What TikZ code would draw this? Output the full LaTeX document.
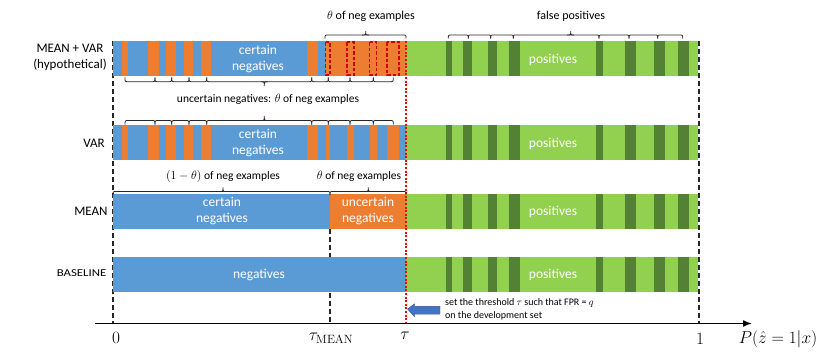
\documentclass[tikz,border=0pt]{standalone}
\usepackage[no-math]{fontspec}
\setmainfont{Carlito}
\usetikzlibrary{arrows.meta}
\definecolor{cblue}{HTML}{5B9BD5}
\definecolor{corange}{HTML}{ED7D31}
\definecolor{cgreen}{HTML}{92D050}
\definecolor{cdgreen}{HTML}{548235}
\definecolor{carrow}{HTML}{4472C4}
\definecolor{cdred}{HTML}{D00000}
\newcommand{\bseg}[4]{\draw[br] (#1,#4) .. controls (#1,#3) .. (#1+3.5,#3) -- (#2-3.5,#3) .. controls (#2,#3) .. (#2,#4);}
\newcommand{\btip}[3]{\draw[br] (#1-3.5,#2) .. controls (#1,#2) .. (#1,#3) .. controls (#1,#2) .. (#1+3.5,#2);}
\newcommand{\greenrow}[2]{%
  \fill[cgreen] (406,#1) rectangle (698,#2);
  \foreach \a/\b in {446/452,463/472,488/497,509/520,596/603,625/636,654/665,678/689}
    \fill[cdgreen] (\a,#1) rectangle (\b,#2);}
\begin{document}
\begin{tikzpicture}[x=1pt,y=-1pt,
  br/.style={draw=black!85,line width=0.8pt},
  vdash/.style={draw=black!85,line width=1.3pt,dash pattern=on 5pt off 3pt},
  thr/.style={draw=red,line width=1.7pt,dash pattern=on 2pt off 1.6pt},
  intext/.style={inner sep=0pt,text=white,align=center,font=\fontsize{13.5}{15.5}\selectfont},
  lbl/.style={inner sep=0pt,align=center,font=\fontsize{13}{16}\selectfont},
  ann/.style={inner sep=0pt,font=\fontsize{12}{14}\selectfont},
  anns/.style={inner sep=0pt,font=\fontsize{11.5}{14}\selectfont},
  axl/.style={inner sep=0pt,font=\fontsize{18}{20}\selectfont}]
\useasboundingbox (0,0) rectangle (830,364);

% vertical dashed guides
\coordinate (g0top) at (113,41);
\coordinate (g0bot) at (113,323);
\coordinate (gmtop) at (330,229);
\coordinate (gmbot) at (330,323);
\coordinate (g1top) at (699,41);
\coordinate (g1bot) at (699,323);
\draw[vdash] (g0top) -- (g0bot);
\draw[vdash] (gmtop) -- (gmbot);
\draw[vdash] (g1top) -- (g1bot);

% Row 1: MEAN + VAR
\fill[cblue] (113,41) rectangle (406,76);
\foreach \a/\b in {122/128,148/159,166/176,184/193,201/211,307/318}
  \fill[corange] (\a,41) rectangle (\b,76);
\fill[corange] (325,41) rectangle (406,76);
\foreach \a/\b in {325.5/330,347/354,369.5/376.5,387/399}
  \draw[cdred,line width=1.2pt,dash pattern=on 3.5pt off 2pt] (\a,42) rectangle (\b,75);
\greenrow{41}{76}

% Row 2: VAR
\fill[cblue] (113,125) rectangle (406,160);
\foreach \a/\b in {122/128,148/159,166/176,184/193,201/211,307/318,326/330,347/354,370/377,387/399}
  \fill[corange] (\a,125) rectangle (\b,160);
\greenrow{125}{160}

% Row 3: MEAN
\fill[cblue] (113,194) rectangle (330,229);
\fill[corange] (330,194) rectangle (406,229);
\greenrow{194}{229}

% Row 4: BASELINE
\fill[cblue] (113,257) rectangle (406,292);
\greenrow{257}{292}

% threshold line
\coordinate (thtop) at (406,41);
\coordinate (thbot) at (406,324);
\draw[thr] (thtop) -- (thbot);

% texts in bars
\node[intext] (n1) at (258,59) {certain\\negatives};
\node[intext] (p1) at (553,59.5) {positives};
\node[intext] (n2) at (258,143) {certain\\negatives};
\node[intext] (p2) at (553,143.5) {positives};
\node[intext] (n3) at (222,211) {certain\\negatives};
\node[intext] (u3) at (368,211) {uncertain\\negatives};
\node[intext] (p3) at (553,212) {positives};
\node[intext] (n4) at (259,275) {negatives};
\node[intext] (p4) at (553,275) {positives};

% row labels
\node[lbl] (l1) at (70,57) {MEAN + VAR\\(hypothetical)};
\node[lbl] (l2) at (94,143) {VAR};
\node[lbl] (l3) at (91,211.5) {MEAN};
\node[inner sep=0pt,anchor=east,font=\fontsize{10.5}{12}\selectfont] (l4) at (106.5,273) {\scalebox{1.22}[1]{BASELINE}};

% braces row 1 top
\bseg{325}{406}{35}{38.5}
\btip{365.7}{35}{31.2}
\node[ann] (t1) at (371,16.5) {$\theta$ of neg examples};
\foreach \a/\b in {448.3/468.3,468.3/490.7,490.7/513.3,513.3/599,599/629,629/657.7,657.7/682.7}
  {\bseg{\a}{\b}{35}{38.5}}
\btip{570.7}{35}{31.2}
\node[ann] (t2) at (571,16.5) {false positives};

% brace under row 1
\foreach \a/\b in {125/155,155/171.7,171.7/189,189/206.7,206.7/311.7,311.7/328.3,328.3/350,350/373.3,373.3/393.3}
  {\bseg{\a}{\b}{81.7}{77.5}}
\btip{264.3}{81.7}{86}
\node[anns] (t3) at (268,99.5) {uncertain negatives: $\theta$ of neg examples};

% brace above row 2
\foreach \a/\b in {125/155,155/171.7,171.7/189,189/206.7,206.7/311.7,311.7/328.3,328.3/350,350/373.3,373.3/393.3}
  {\bseg{\a}{\b}{120.5}{124.5}}
\btip{264.3}{120.5}{116}

% braces above row 3
\bseg{113}{330}{191.5}{195}
\btip{223}{191.5}{187.5}
\bseg{330}{406}{191.5}{195}
\btip{368.3}{191.5}{187.5}
\node[anns] (t4) at (223,176) {$(1-\theta)$ of neg examples};
\node[anns] (t5) at (359,176) {$\theta$ of neg examples};

% note with arrow
\node[inner sep=0pt,anchor=west,align=left,font=\fontsize{10}{13.3}\selectfont] (note) at (445,309.5)
  {set the threshold $\tau$ such that FPR = $q$\\on the development set};
\coordinate (arrowtail) at (440,309);
\coordinate (arrowhead) at (407.5,309);
\fill[carrow,draw=carrow!75!black,line width=0.4pt]
  (arrowtail) ++(0,-2.6) -- ++(-25.5,0) -- ++(0,-2.6) -- (arrowhead) -- ++(7,7.8) -- ++(0,-2.6) -- ++(25.5,0) -- cycle;

% axis
\coordinate (axl) at (95,323.5);
\coordinate (axr) at (752,323.5);
\draw[line width=1.6pt,-{Latex[length=9pt,width=7pt]}] (axl) -- (axr);
\node[axl] (a0) at (116,338) {$0$};
\node[axl] (am) at (331,338) {$\tau_{\mathrm{MEAN}}$};
\node[axl] (at) at (405,336) {$\tau$};
\node[axl] (a1) at (700,339) {$1$};
\node[axl] (ap) at (778,339.5) {$P(\hat{z}=1|x)$};
\end{tikzpicture}
\end{document}
